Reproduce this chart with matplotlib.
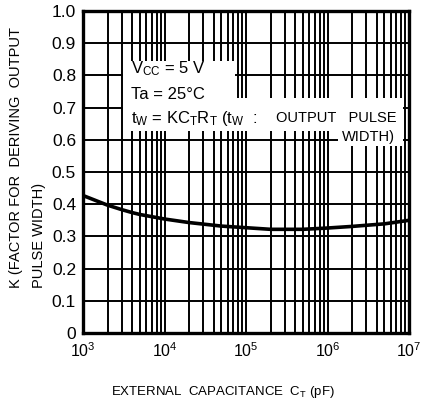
import matplotlib
matplotlib.use('Agg')
import matplotlib.pyplot as plt
from matplotlib.patches import Rectangle
from matplotlib.ticker import FixedLocator, NullFormatter

plt.rcParams['font.family'] = ['Liberation Sans', 'DejaVu Sans']
plt.rcParams['mathtext.fontset'] = 'custom'
plt.rcParams['mathtext.rm'] = 'Liberation Sans'
plt.rcParams['mathtext.it'] = 'Liberation Sans'

# данные
ct_pf = [1e3, 2e3, 3e3, 4e3, 5e3, 1e4, 2e4, 5e4, 1e5, 2e5, 5e5, 1e6, 2e6, 5e6, 1e7]
k_val = [0.427, 0.397, 0.383, 0.374, 0.368, 0.354, 0.343, 0.332, 0.327,
         0.322, 0.322, 0.326, 0.331, 0.339, 0.350]
y_ticks = [0, 0.1, 0.2, 0.3, 0.4, 0.5, 0.6, 0.7, 0.8, 0.9, 1.0]
y_labels = ['0', '0.1', '0.2', '0.3', '0.4', '0.5', '0.6', '0.7', '0.8', '0.9', '1.0']
x_ticks = [1e3, 1e4, 1e5, 1e6, 1e7]
x_labels = [r'$10^{3}$', r'$10^{4}$', r'$10^{5}$', r'$10^{6}$', r'$10^{7}$']

fig = plt.figure(figsize=(4.31, 4.03), dpi=100)
ax = fig.add_axes([0.1926, 0.1737, 0.7564, 0.799])

ax.plot(ct_pf, k_val, color='black', lw=2.6, zorder=3, solid_capstyle='butt')

ax.set_xscale('log')
ax.set_xlim(1e3, 1e7)
ax.set_ylim(0, 1.0)
ax.set_xticks(x_ticks)
ax.set_xticklabels(x_labels, fontsize=11.5)
ax.xaxis.set_minor_locator(FixedLocator([m * 10**d for d in range(3, 7) for m in range(2, 10)]))
ax.xaxis.set_minor_formatter(NullFormatter())
ax.set_yticks(y_ticks)
ax.set_yticklabels(y_labels, fontsize=12.5)
ax.tick_params(which='both', length=0)
ax.tick_params(axis='y', pad=5)
ax.tick_params(axis='x', pad=6)
ax.grid(True, which='both', axis='x', color='black', lw=1.4)
ax.grid(True, which='major', axis='y', color='black', lw=1.4)
for s in ax.spines.values():
    s.set_linewidth(2.4)

# белые подложки под надписи
for (x0, y0, w, h) in [(0.123, 0.627, 0.343, 0.218),
                       (0.123, 0.627, 0.859, 0.103),
                       (0.782, 0.581, 0.200, 0.046)]:
    ax.add_patch(Rectangle((x0, y0), w, h, transform=ax.transAxes,
                           facecolor='white', edgecolor='none', zorder=2))

ax.text(0.147, 0.82, r'V$_{\rm CC}$ = 5 V', transform=ax.transAxes,
        fontsize=12, va='center', ha='left', zorder=4)
ax.text(0.147, 0.742, 'Ta = 25°C', transform=ax.transAxes,
        fontsize=12, va='center', ha='left', zorder=4)
ax.text(0.147, 0.665, r't$_{\rm W}$ = KC$_{\rm T}$R$_{\rm T}$ (t$_{\rm W}$  :',
        transform=ax.transAxes, fontsize=12, va='center', ha='left', zorder=4)
ax.text(0.963, 0.668, 'OUTPUT   PULSE', transform=ax.transAxes,
        fontsize=10.5, va='center', ha='right', zorder=4)
ax.text(0.957, 0.609, 'WIDTH)', transform=ax.transAxes,
        fontsize=10.5, va='center', ha='right', zorder=4)

fig.text(223 / 431, 1 - 392 / 403, r'EXTERNAL  CAPACITANCE  C$_{\rm T}$ (pF)',
         fontsize=9.5, ha='center', va='center')
fig.text(16 / 431, 1 - 288 / 403, 'K (FACTOR FOR  DERIVING  OUTPUT',
         fontsize=10.5, rotation=90, ha='center', va='bottom')
fig.text(39 / 431, 1 - 288 / 403, 'PULSE WIDTH)',
         fontsize=10.5, rotation=90, ha='center', va='bottom')

fig.savefig('out.png', dpi=100)
